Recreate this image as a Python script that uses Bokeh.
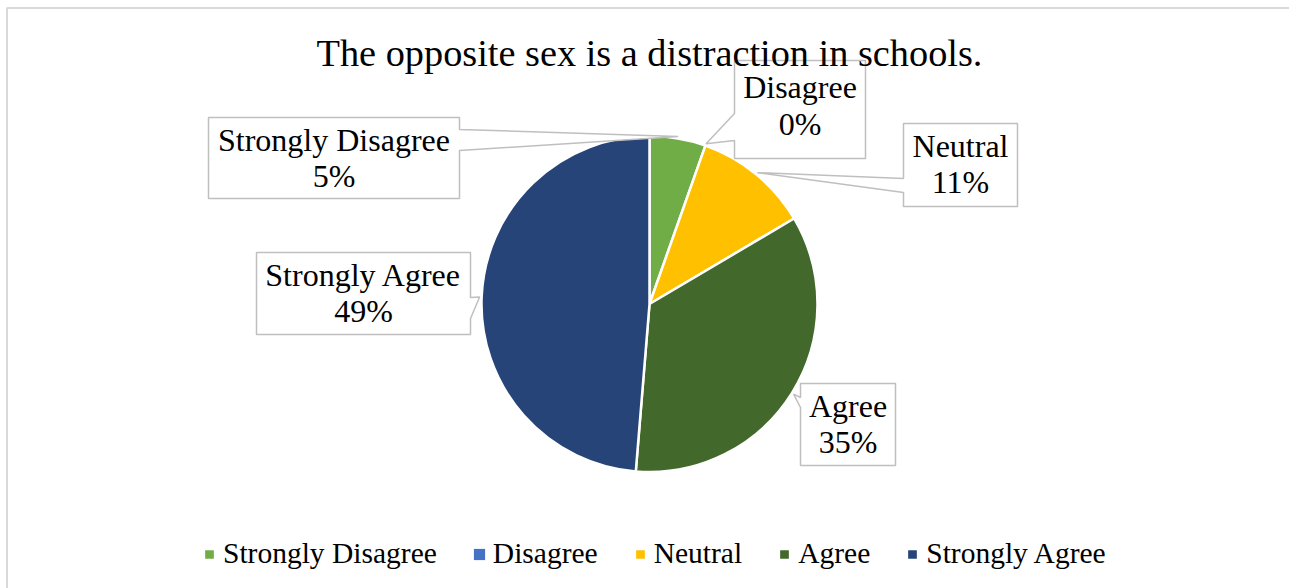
import math
from bokeh.plotting import figure
from bokeh.models import Range1d, Label, Legend, LegendItem, ColumnDataSource
from bokeh.core.properties import value
from bokeh.embed import file_html
from bokeh.resources import INLINE

# ---- data ----
title_text = "The opposite sex is a distraction in schools."
categories = ["Strongly Disagree", "Disagree", "Neutral", "Agree", "Strongly Agree"]
values = [5.4, 0.0, 11.1, 34.8, 48.7]
pct_labels = ["5%", "0%", "11%", "35%", "49%"]
colors = ["#70AD47", "#4472C4", "#FFC000", "#43682B", "#264478"]

# ---- layout (screen pixels) ----
W, H = 1289, 588
CX, CY, R = 649, 303.5, 168
FONT = "Liberation Serif"
TDY = -11.5  # renderer baseline correction
# callout boxes: left, top, right, bottom, pointer side, pointer base (y0, y1), text baselines
boxes = [
    dict(l=208, t=117, r=459, b=198, side="right", base=(129, 150), lines=(151, 187)),
    dict(l=734, t=60, r=865, b=158, side="left", base=(113, 140), lines=(98, 135)),
    dict(l=903, t=123, r=1017, b=206, side="left", base=(178, 192), lines=(157, 193)),
    dict(l=800, t=383, r=895, b=465, side="left", base=(397, 407), lines=(417, 453)),
    dict(l=256, t=252, r=470, b=334, side="right", base=(297, 318), lines=(286, 322)),
]


def fy(y):
    return H - y


p = figure(width=W, height=H, x_range=Range1d(0, W), y_range=Range1d(0, H),
           output_backend="svg", toolbar_location=None, min_border=0)
p.axis.visible = False
p.grid.visible = False
p.outline_line_color = None
p.background_fill_color = "white"
p.border_fill_color = "white"

# page border
p.quad(left=6.5, right=W + 20, top=fy(7.5), bottom=-20, fill_color=None,
       line_color="#D9D9D9", line_width=2)

# pie geometry from values
total = sum(values)
starts, ends, mids = [], [], []
acc = 0.0
for v in values:
    th0 = 2 * math.pi * acc / total
    acc += v
    th1 = 2 * math.pi * acc / total
    starts.append(th0)
    ends.append(th1)
    mids.append((th0 + th1) / 2)

nz = [i for i, v in enumerate(values) if v > 0]
src = ColumnDataSource(dict(
    x=[CX] * len(nz), y=[fy(CY)] * len(nz),
    start=[math.pi / 2 - ends[i] for i in nz],
    end=[math.pi / 2 - starts[i] for i in nz],
    color=[colors[i] for i in nz],
    cat=[categories[i] for i in nz],
))
wedges = p.wedge(x="x", y="y", radius=R, start_angle="start", end_angle="end",
                 fill_color="color", line_color="white", line_width=2.5, source=src)

# callouts
xs, ys = [], []
tx, ty1, ty2, t1, t2 = [], [], [], [], []
for i, bx in enumerate(boxes):
    tipx = CX + (R + 2) * math.sin(mids[i])
    tipy = CY - (R + 2) * math.cos(mids[i])
    L, T, Rr, B = bx["l"], bx["t"], bx["r"], bx["b"]
    b0, b1 = bx["base"]
    if bx["side"] == "right":
        pts = [(L, T), (Rr, T), (Rr, b0), (tipx, tipy), (Rr, b1), (Rr, B), (L, B)]
    else:
        pts = [(L, T), (Rr, T), (Rr, B), (L, B), (L, b1), (tipx, tipy), (L, b0)]
    xs.append([q[0] for q in pts])
    ys.append([fy(q[1]) for q in pts])
    tx.append((L + Rr) / 2)
    ty1.append(fy(bx["lines"][0] + TDY))
    ty2.append(fy(bx["lines"][1] + TDY))
    t1.append(categories[i])
    t2.append(pct_labels[i])

p.patches(xs=xs, ys=ys, fill_color="white", line_color="#BFBFBF", line_width=1.5)
p.text(x=tx, y=ty1, text=t1, text_align="center", text_baseline="alphabetic",
       text_font=value(FONT), text_font_size="32px", text_color="#000000")
p.text(x=tx, y=ty2, text=t2, text_align="center", text_baseline="alphabetic",
       text_font=value(FONT), text_font_size="32px", text_color="#000000")

# title
p.add_layout(Label(x=649, y=fy(64 + TDY), text=title_text, text_align="center",
                   text_baseline="alphabetic", text_font=FONT,
                   text_font_size="38.3px", text_color="#000000"))

# legend (zero-valued category gets an off-view swatch renderer)
dummy = p.quad(left=[-50], right=[-40], top=[-40], bottom=[-50],
               fill_color=colors[1], line_color=None)
items = []
for i, c in enumerate(categories):
    if values[i] > 0:
        items.append(LegendItem(label=c, renderers=[wedges], index=nz.index(i)))
    else:
        items.append(LegendItem(label=c, renderers=[dummy]))
legend = Legend(items=items, orientation="horizontal", location=(202, 18),
                glyph_width=14, glyph_height=14, label_standoff=7, spacing=35,
                padding=0, margin=0, border_line_color=None,
                background_fill_alpha=0, label_text_font=FONT,
                label_text_font_size="29.5px", label_text_color="#000000")
p.add_layout(legend, "center")

open("out.html", "w").write(file_html(p, INLINE))
